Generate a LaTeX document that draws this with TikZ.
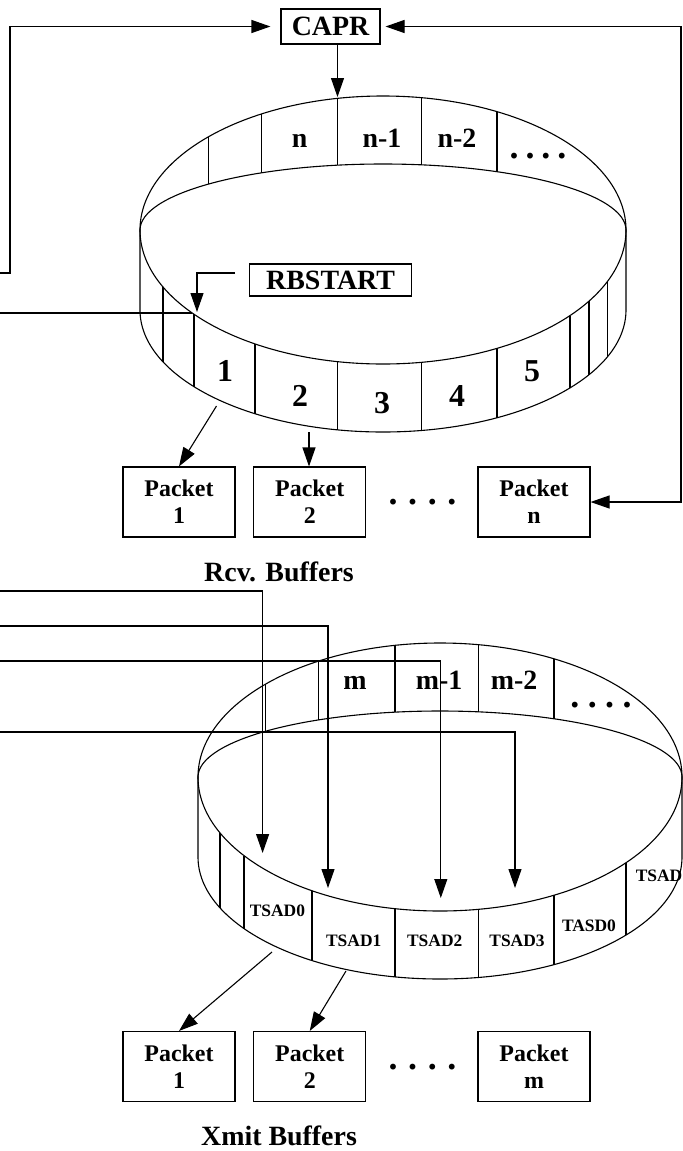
\documentclass[tikz,border=0pt]{standalone}
\usepackage{fontspec}
\setmainfont{Liberation Serif}
\usetikzlibrary{arrows.meta}
\begin{document}
\begin{tikzpicture}[x=1bp,y=-1bp,
  ln/.style={line width=1.1bp},
  arr/.style={ln,-{Triangle[length=19bp,width=13bp]}},
  arrb/.style={ln,{Triangle[length=19bp,width=13bp]}-{Triangle[length=19bp,width=13bp]}},
  regbox/.style={draw,ln,inner sep=0pt,font=\bfseries\fontsize{28}{30}\selectfont},
  pk/.style={draw,ln,minimum width=112bp,minimum height=70bp,inner sep=0pt,align=center,font=\bfseries\fontsize{24}{27}\selectfont},
  big/.style={font=\bfseries\fontsize{28}{30}\selectfont,inner sep=0pt,anchor=base},
  dig/.style={font=\bfseries\fontsize{32}{34}\selectfont,inner sep=0pt,anchor=base},
  sm/.style={font=\bfseries\fontsize{17.5}{19}\selectfont,inner sep=0pt,anchor=base},
  dotsty/.style={font=\bfseries\fontsize{36}{38}\selectfont,inner sep=0pt}
]
\useasboundingbox (0,0) rectangle (683,1151);

% ---------------- Rcv ring ----------------
\draw[ln] (383,230) ellipse [x radius=243, y radius=134];
\draw[ln] (140,230) arc[start angle=180,end angle=360,x radius=243,y radius=66];
\draw[ln] (140,230) -- (140,310) arc[start angle=180,end angle=0,x radius=243,y radius=122] -- (626,230);
\foreach \xx in {208.6,261.8,337.5,421.6,497}{
  \pgfmathsetmacro\ss{sqrt(1-((\xx-383)/243)^2)}
  \draw[ln] (\xx,{230-134*\ss}) -- (\xx,{230-66*\ss});
}
\foreach \xx in {163,194,255,337.5,421.6,497,570,589,607.6}{
  \pgfmathsetmacro\ss{sqrt(1-((\xx-383)/243)^2)}
  \draw[ln] (\xx,{230+134*\ss}) -- (\xx,{310+122*\ss});
}
\node[big] (ln1) at (299.6,147) {n};
\node[big] (ln2) at (382,147) {n-1};
\node[big] (ln3) at (457,147) {n-2};
\node[dotsty] (ldots) at (538,156) {.\hspace{7bp}.\hspace{7bp}.\hspace{7bp}.};
\node[dig] (f1) at (225,381.7) {1};
\node[dig] (f2) at (300,406.7) {2};
\node[dig] (f3) at (382,413) {3};
\node[dig] (f4) at (457,406.7) {4};
\node[dig] (f5) at (532,381.7) {5};

% registers
\node[regbox, minimum width=99bp, minimum height=35bp] (capr) at (330.5,26.5) {CAPR};
\node[regbox, minimum width=162bp, minimum height=32bp] (rbs) at (330.6,280) {RBSTART};

% Rcv packets
\node[pk] (p1) at (179,502) {Packet\\1};
\node[pk] (p2) at (309.75,502) {Packet\\2};
\node[pk] (pn) at (534,502) {Packet\\n};
\node[dotsty] (pdots) at (422.5,502) {.\hspace{10.6bp}.\hspace{10.6bp}.\hspace{10.6bp}.};
\node[big] (rcv) at (279,581) {Rcv. Buffers};

% Rcv connectors
\coordinate (lin1) at (0,273);
\coordinate (lcorner) at (10,273);
\draw[arr, shorten >=10bp] (lin1) -- (lcorner) |- (capr.west);
\coordinate (rcorner) at (681,502);
\draw[arrb, shorten <=5bp] (capr.east) -| (rcorner) -- (pn.east);
\coordinate (rtop) at (337.5,97);
\draw[arr] (capr.south -| rtop) -- (rtop);
\coordinate (rbA) at (235,273);
\coordinate (rbT) at (197,312);
\draw[arr] (rbA) -| (rbT);
\coordinate (lin2) at (0,313);
\coordinate (rbhit) at (192,313);
\draw[ln] (lin2) -- (rbhit);
\coordinate (s1) at (216.5,406);
\draw[arr] (s1) -- (p1.north);
\coordinate (s2) at (309,432);
\draw[arr] (s2) -- (s2 |- p2.north);

% ---------------- Xmit ring ----------------
\draw[ln] (440,777) ellipse [x radius=242, y radius=134];
\draw[ln] (198,777) arc[start angle=180,end angle=360,x radius=242,y radius=66];
\draw[ln] (198,777) -- (198,857) arc[start angle=180,end angle=0,x radius=242,y radius=122] -- (682,777);
\foreach \xx in {265.7,318.8,395,478.6,554}{
  \pgfmathsetmacro\ss{sqrt(1-((\xx-440)/242)^2)}
  \draw[ln] (\xx,{777-134*\ss}) -- (\xx,{777-66*\ss});
}
\foreach \xx in {220,244,312,395,478.6,554,626}{
  \pgfmathsetmacro\ss{sqrt(1-((\xx-440)/242)^2)}
  \draw[ln] (\xx,{777+134*\ss}) -- (\xx,{857+122*\ss});
}
\node[big] (m1) at (355,689) {m};
\node[big] (m2) at (439,689) {m-1};
\node[big] (m3) at (514,689) {m-2};
\node[dotsty] (mdots) at (601,705) {.\hspace{8.4bp}.\hspace{8.4bp}.\hspace{8.4bp}.};
\node[sm] (t0) at (277.4,916.7) {TSAD0};
\node[sm] (t1) at (353.7,946.7) {TSAD1};
\node[sm] (t2) at (434.7,946.7) {TSAD2};
\node[sm] (t3) at (517,946.7) {TSAD3};
\node[sm] (t4) at (589,931.7) {TASD0};
\node[sm] (t5) at (659,881) {TSAD};

% Xmit packets
\node[pk] (q1) at (179,1066.5) {Packet\\1};
\node[pk] (q2) at (309.75,1066.5) {Packet\\2};
\node[pk] (qm) at (534,1066.5) {Packet\\m};
\node[dotsty] (qdots) at (422.5,1066.7) {.\hspace{10.6bp}.\hspace{10.6bp}.\hspace{10.6bp}.};
\node[big] (xmit) at (279,1145) {Xmit Buffers};

% Xmit connectors
\coordinate (xa) at (0,591);   \coordinate (xat) at (262.6,853);
\coordinate (xb) at (0,626);   \coordinate (xbt) at (328,888);
\coordinate (xc) at (0,661);   \coordinate (xct) at (440.8,898);
\coordinate (xd) at (0,732);   \coordinate (xdt) at (515,888);
\draw[arr] (xa) -| (xat);
\draw[arr] (xb) -| (xbt);
\draw[arr] (xc) -| (xct);
\draw[arr] (xd) -| (xdt);
\coordinate (u1) at (272,952);
\draw[arr] (u1) -- (q1.north);
\coordinate (u2) at (346,971);
\draw[arr] (u2) -- (q2.north);
\end{tikzpicture}
\end{document}
